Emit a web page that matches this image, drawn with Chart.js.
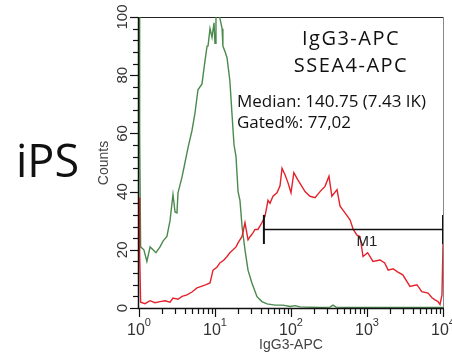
<!DOCTYPE html>
<html>
<head>
<meta charset="utf-8">
<script src="https://cdn.jsdelivr.net/npm/chart.js@4.4.1/dist/chart.umd.min.js"></script>
<style>
    html, body { margin: 0; padding: 0; background: #fff; }
    #wrap { width: 452px; height: 353px; }
</style>
</head>
<body>
<div id="wrap"><canvas id="histChart" width="452" height="353"></canvas></div>
<script>
/* ===== 데이터 ===== */
// IgG3-APC (isotype, green)
const greenX = [1, 1.02, 1.05, 1.16, 1.27, 1.40, 1.53, 1.67, 1.89, 2.07, 2.33, 2.56, 2.80, 2.98, 3.16, 3.26,
    3.68, 4.03, 4.41, 4.98, 5.45, 5.97, 6.74, 7.39, 7.86, 8.09, 8.60, 9.14, 9.70, 10.0, 10.3, 10.9, 11.3,
    12.4, 12.7, 13.6, 14.4, 15.7, 16.7, 17.8, 18.9, 20.1, 21.3, 22.7, 24.8, 27.2, 30.6, 35.7, 41.4, 48.3,
    61.6, 78.4, 97, 113, 131, 162, 241, 326, 357, 392, 598, 2717, 10000];
const greenY = [105, 60, 21, 20, 16, 21, 20, 19, 21, 23, 24.6, 30, 39, 33, 32.7, 39.6,
    45, 50, 55, 61, 67, 75, 77, 85, 90, 90, 96, 93, 98, 91, 100, 104, 101,
    96, 90, 88, 86, 78, 67, 56, 52, 40, 37, 28, 20, 13, 8.6, 3.9, 2.2, 1.4,
    1.0, 1.0, 0.5, 0.8, 0.4, 0.3, 0.2, 0.3, 1.0, 0.3, 0.2, 0.2, 0.2];

// SSEA4-APC (red)
const redX = [1, 1.02, 1.05, 1.20, 1.40, 1.62, 1.89, 2.20, 2.56, 2.80, 3.26, 3.68, 4.28, 4.98, 5.80, 6.74,
    7.62, 8.60, 9.42, 10.6, 11.6, 13.1, 14.4, 15.7, 17.3, 18.9, 20.1, 22.7, 24.8, 27.2, 28.9, 31.6, 33.6,
    36.7, 41.4, 45.5, 49.8, 52.9, 57.9, 65.4, 71.7, 76.2, 83.4, 91.4, 100, 109, 123, 139, 153, 178, 207,
    241, 280, 316, 345, 403, 442, 514, 598, 659, 738, 809, 887, 1020, 1199, 1483, 1710, 1900, 2203, 2487,
    2955, 3679, 4539, 5252, 6360, 7170, 7847, 8590, 9130, 9700, 10000];
const redY = [38, 19, 2, 1.5, 2.5, 1.8, 2.2, 2.5, 2.0, 3.4, 3.0, 4.0, 4.5, 5.5, 6.9, 7.5,
    8.0, 8.6, 13, 14, 15.5, 16.5, 17.7, 19, 20, 21, 22.4, 24.6, 29.3, 23.4, 24.5, 25.8, 27,
    27, 29.3, 31.5, 37, 36, 38.4, 39.6, 42, 48, 45.8, 43, 39.6, 46.5, 44, 41.8, 40, 38.4, 37.9,
    40, 41.8, 45.3, 38.4, 40.7, 35, 32.7, 30.3, 27, 25, 24.6, 17.7, 19, 16, 16.5, 15.5, 13, 13.5, 12.5,
    11.4, 7.4, 8, 5.6, 5.1, 3.5, 2.8, 2.2, 1.2, 4.5, 22];

// M1 게이트
const gateX = [44, 10000];
const gateLevel = 27;
const gateTick = [22, 32];
const gateLabel = 'M1';

// 축
const yTickValues = [0, 20, 40, 60, 80, 100];
const xDecades = [0, 1, 2, 3, 4];
const xTitle = 'IgG3-APC';
const yTitle = 'Counts';

// 주석 텍스트
const legendLines = ['IgG3-APC', 'SSEA4-APC'];
const statLines = ['Median: 140.75 (7.43 IK)', 'Gated%: 77,02'];
const sampleName = 'iPS';

const toPts = (xs, ys) => xs.map((x, i) => ({ x: x, y: ys[i] }));

/* ===== 축/텍스트 플러그인 ===== */
const frameAxes = {
    id: 'frameAxes',
    beforeDatasetsDraw(chart) {
        const { ctx, chartArea: a } = chart;
        ctx.save();
        ctx.strokeStyle = '#888';
        ctx.lineWidth = 1;
        ctx.beginPath();
        ctx.moveTo(a.right + 0.5, a.top);
        ctx.lineTo(a.right + 0.5, a.bottom);
        ctx.stroke();
        ctx.strokeStyle = '#222';
        ctx.beginPath();
        ctx.moveTo(a.left, a.top + 0.5);
        ctx.lineTo(a.right, a.top + 0.5);
        ctx.stroke();
        ctx.restore();
    },
    afterDatasetsDraw(chart) {
        const { ctx, chartArea: a, scales } = chart;
        const xs = scales.x, ys = scales.y;
        ctx.save();
        ctx.strokeStyle = '#111';
        ctx.lineWidth = 1.5;
        ctx.beginPath();
        ctx.moveTo(a.left - 0.5, a.top);
        ctx.lineTo(a.left - 0.5, a.bottom + 0.5);
        ctx.lineTo(a.right + 1, a.bottom + 0.5);
        ctx.stroke();

        // y 눈금 (4 단위)
        ctx.lineWidth = 1.2;
        for (let v = 0; v <= 100; v += 4) {
            const py = Math.round(ys.getPixelForValue(v)) + 0.5;
            const len = (v % 20 === 0) ? 8 : 5;
            ctx.beginPath();
            ctx.moveTo(a.left - 1, py);
            ctx.lineTo(a.left - 1 - len, py);
            ctx.stroke();
        }
        // x 눈금 (로그)
        for (let d = 0; d < 4; d++) {
            for (let m = 1; m <= 9; m++) {
                const px = Math.round(xs.getPixelForValue(m * Math.pow(10, d))) + 0.5;
                const len = (m === 1) ? 8 : 5;
                ctx.beginPath();
                ctx.moveTo(px, a.bottom + 1);
                ctx.lineTo(px, a.bottom + 1 + len);
                ctx.stroke();
            }
        }
        const pxEnd = Math.round(xs.getPixelForValue(10000)) + 0.5;
        ctx.beginPath();
        ctx.moveTo(pxEnd, a.bottom + 1);
        ctx.lineTo(pxEnd, a.bottom + 9);
        ctx.stroke();

        // y 라벨 (세로)
        ctx.fillStyle = '#333';
        ctx.font = '15px "Liberation Sans", Arial, sans-serif';
        ctx.textAlign = 'center';
        ctx.textBaseline = 'middle';
        yTickValues.forEach(v => {
            const py = ys.getPixelForValue(v);
            ctx.save();
            ctx.translate(a.left - 16, py);
            ctx.rotate(-Math.PI / 2);
            ctx.fillText(String(v), 0, 0);
            ctx.restore();
        });
        // x 라벨 10^n
        ctx.textBaseline = 'alphabetic';
        xDecades.forEach(n => {
            const px = xs.getPixelForValue(Math.pow(10, n));
            ctx.font = '16px "Liberation Sans", Arial, sans-serif';
            const wBase = ctx.measureText('10').width;
            ctx.font = '11px "Liberation Sans", Arial, sans-serif';
            const wSup = ctx.measureText(String(n)).width;
            const x0 = px - (wBase + wSup) / 2;
            ctx.textAlign = 'left';
            ctx.font = '16px "Liberation Sans", Arial, sans-serif';
            ctx.fillText('10', x0, a.bottom + 27);
            ctx.font = '11px "Liberation Sans", Arial, sans-serif';
            ctx.fillText(String(n), x0 + wBase, a.bottom + 18);
        });
        // 축 제목
        ctx.textAlign = 'center';
        ctx.font = '14px "Liberation Sans", Arial, sans-serif';
        ctx.fillStyle = '#444';
        ctx.fillText(xTitle, (a.left + a.right) / 2, 349);
        ctx.save();
        ctx.translate(104, 163);
        ctx.rotate(-Math.PI / 2);
        ctx.textBaseline = 'middle';
        ctx.fillText(yTitle, 0, 0);
        ctx.restore();

        // M1 라벨
        ctx.fillStyle = '#222';
        ctx.font = '15px "Liberation Sans", Arial, sans-serif';
        ctx.textBaseline = 'middle';
        ctx.fillText(gateLabel, xs.getPixelForValue(1000), ys.getPixelForValue(gateLevel) + 12);

        // 범례/통계 텍스트
        ctx.fillStyle = '#111';
        ctx.textBaseline = 'alphabetic';
        ctx.font = '20px "Open Sans", sans-serif';
        ctx.letterSpacing = '1.5px';
        ctx.fillText(legendLines[0], 351, 45);
        ctx.fillText(legendLines[1], 351, 72);
        ctx.letterSpacing = '0px';
        ctx.textAlign = 'left';
        ctx.font = '17px "Open Sans", sans-serif';
        ctx.fillText(statLines[0], 237, 107);
        ctx.fillText(statLines[1], 237, 128);

        // 샘플 이름
        ctx.font = '45px "Open Sans", sans-serif';
        ctx.fillText(sampleName, 16, 177);
        ctx.restore();
    }
};

/* ===== 차트 ===== */
const ctx = document.getElementById('histChart').getContext('2d');
const chart = new Chart(ctx, {
    type: 'line',
    data: {
        datasets: [
            {
                label: 'gate',
                data: toPts(gateX, [gateLevel, gateLevel]),
                borderColor: '#111',
                borderWidth: 1.5,
                pointRadius: 0
            },
            {
                label: 'gateL',
                data: toPts([gateX[0], gateX[0]], gateTick),
                borderColor: '#111',
                borderWidth: 2,
                pointRadius: 0
            },
            {
                label: 'gateR',
                data: toPts([gateX[1], gateX[1]], gateTick),
                borderColor: '#111',
                borderWidth: 2,
                pointRadius: 0
            },
            {
                label: 'SSEA4-APC',
                data: toPts(redX, redY),
                borderColor: '#e3222b',
                borderWidth: 1.4,
                pointRadius: 0,
                tension: 0
            },
            {
                label: 'IgG3-APC',
                data: toPts(greenX, greenY),
                borderColor: '#4a8a4c',
                borderWidth: 1.4,
                pointRadius: 0,
                tension: 0
            }
        ]
    },
    options: {
        responsive: false,
        animation: false,
        devicePixelRatio: 1,
        layout: { padding: { left: 139, top: 17, right: 9, bottom: 45 } },
        plugins: { legend: { display: false }, tooltip: { enabled: false } },
        scales: {
            x: { type: 'logarithmic', min: 1, max: 10000, display: false },
            y: { type: 'linear', min: 0, max: 100, display: false }
        }
    },
    plugins: [frameAxes]
});
</script>
</body>
</html>
